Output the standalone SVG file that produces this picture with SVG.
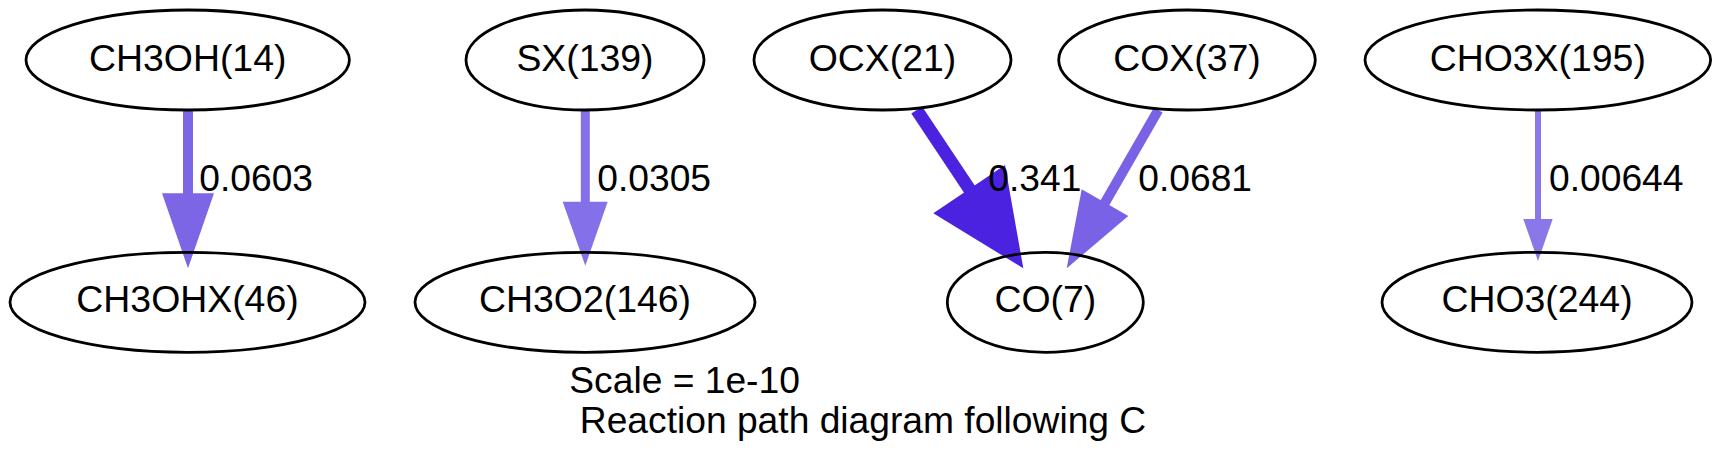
<svg xmlns="http://www.w3.org/2000/svg" width="1721" height="469" viewBox="0 0 1721 469">
<style>
.node ellipse{fill:none;stroke:#000;stroke-width:2.8}
.node text{font-family:"Liberation Sans",Arial,Helvetica,sans-serif;font-size:37.4px;text-anchor:middle;fill:#000}
.lbl{font-family:"Liberation Sans",Arial,Helvetica,sans-serif;font-size:37.2px;fill:#000}
.edge line{stroke-linecap:butt}
</style>
<rect width="1721" height="469" fill="#fff"/>
<g id="connectors">
  <g id="e1" class="edge">
    <line x1="188" y1="110" x2="188" y2="194" stroke="#7d66e6" stroke-width="10"/>
    <polygon points="162,193.3 214,193.3 188,268.3" fill="#7d66e6"/>
    <text class="lbl" x="199.3" y="190.7">0.0603</text>
  </g>
  <g id="e2" class="edge">
    <line x1="585.3" y1="110" x2="585.3" y2="202" stroke="#8470e8" stroke-width="9"/>
    <polygon points="562.7,201.7 607.7,201.7 585.3,265.7" fill="#8470e8"/>
    <text class="lbl" x="597.3" y="190.7">0.0305</text>
  </g>
  <g id="e3" class="edge">
    <line x1="916.7" y1="110" x2="970" y2="190" stroke="#4b22e0" stroke-width="13"/>
    <polygon points="933.3,213.3 1005,165 1023.3,268.3" fill="#4b22e0"/>
    <text class="lbl" x="988.3" y="190.7">0.341</text>
  </g>
  <g id="e4" class="edge">
    <line x1="1158.3" y1="110" x2="1104.5" y2="203.5" stroke="#7a62e6" stroke-width="10"/>
    <polygon points="1081.7,189.3 1128.3,216 1066.7,268.3" fill="#7a62e6"/>
    <text class="lbl" x="1138.3" y="190.7">0.0681</text>
  </g>
  <g id="e5" class="edge">
    <line x1="1538" y1="110" x2="1538" y2="220" stroke="#8b78e8" stroke-width="6"/>
    <polygon points="1523.3,219 1552.7,219 1538,261" fill="#8b78e8"/>
    <text class="lbl" x="1549" y="190.7">0.00644</text>
  </g>
</g>
<g id="n_CH3OH" class="node"><ellipse cx="187.7" cy="60" rx="161.7" ry="50"/><text x="187.7" y="70.7">CH3OH(14)</text></g>
<g id="n_SX" class="node"><ellipse cx="585" cy="60" rx="119" ry="50"/><text x="585" y="70.7">SX(139)</text></g>
<g id="n_OCX" class="node"><ellipse cx="882.5" cy="60" rx="128.5" ry="50"/><text x="882.5" y="70.7">OCX(21)</text></g>
<g id="n_COX" class="node"><ellipse cx="1187" cy="60" rx="128.3" ry="50"/><text x="1187" y="70.7">COX(37)</text></g>
<g id="n_CHO3X" class="node"><ellipse cx="1537.8" cy="60" rx="172.8" ry="50"/><text x="1537.8" y="70.7">CHO3X(195)</text></g>
<g id="n_CH3OHX" class="node"><ellipse cx="187.5" cy="302.3" rx="177.5" ry="50"/><text x="187.5" y="311.7">CH3OHX(46)</text></g>
<g id="n_CH3O2" class="node"><ellipse cx="585" cy="302.3" rx="170" ry="50"/><text x="585" y="311.7">CH3O2(146)</text></g>
<g id="n_CO" class="node"><ellipse cx="1045.3" cy="302.3" rx="98" ry="50"/><text x="1045.3" y="311.7">CO(7)</text></g>
<g id="n_CHO3" class="node"><ellipse cx="1537" cy="302.3" rx="155" ry="50"/><text x="1537" y="311.7">CHO3(244)</text></g>
<g id="caption">
  <text class="lbl" x="569.3" y="393.3">Scale = 1e-10</text>
  <text class="lbl" x="569.5" y="433" xml:space="preserve"> Reaction path diagram following C</text>
</g>
</svg>
